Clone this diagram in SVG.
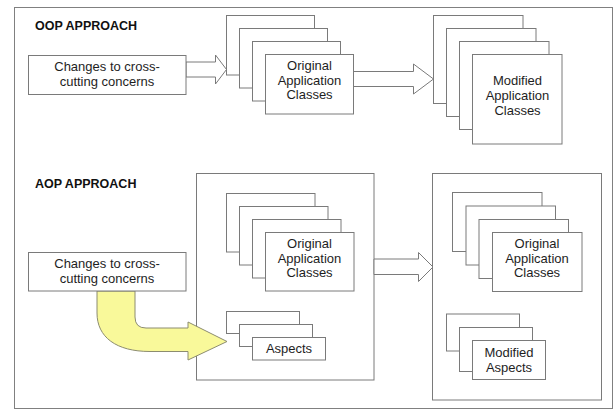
<svg xmlns="http://www.w3.org/2000/svg" width="614" height="409" viewBox="0 0 614 409">
  <style>
    .frame { fill: #ffffff; stroke: #808080; stroke-width: 1; }
    .box { fill: #ffffff; stroke: #7a7a7a; stroke-width: 1; }
    .arrow { fill: #ffffff; stroke: #7a7a7a; stroke-width: 1; stroke-linejoin: miter; }
    .curved { fill: #f9f99a; stroke: #8c8c70; stroke-width: 1; }
    .label { font-family: "Liberation Sans", Arial, sans-serif; font-size: 13px; fill: #1e1e1e; text-anchor: middle; }
    .heading { font-family: "Liberation Sans", Arial, sans-serif; font-size: 12.5px; font-weight: bold; fill: #111111; }
  </style>

  <!-- outer frame -->
  <rect class="frame" x="14.5" y="7.5" width="598" height="401"/>

  <!-- section headings -->
  <text class="heading" x="35" y="30">OOP APPROACH</text>
  <text class="heading" x="35" y="187.5">AOP APPROACH</text>

  <!-- AOP containers -->
  <g id="aop-before">
    <rect class="box" x="196.5" y="173.5" width="177.5" height="206.5"/>
  </g>
  <g id="aop-after">
    <rect class="box" x="432.5" y="173.5" width="169" height="226.5"/>
  </g>

  <!-- connectors -->
  <g id="connectors">
    <polygon class="arrow" points="186,62 215.5,62 215.5,55 226.5,69.5 215.5,84 215.5,77 186,77"/>
    <polygon class="arrow" points="353.5,71.5 413.5,71.5 413.5,64 433.5,79 413.5,94 413.5,86.5 353.5,86.5"/>
    <polygon class="arrow" points="374,259 418.5,259 418.5,252.5 433,267 418.5,281.5 418.5,274.5 374,274.5"/>
    <path class="curved" d="M97,291 L135,291 L135,317 Q135,328 146,328 L188,328 L188,322 L227,341.5 L188,360 L188,351.5 L150,351.5 C116,351.5 97,337 97,313 Z"/>
  </g>

  <!-- OOP: changes -->
  <g id="oop-changes">
    <rect class="box" x="28.5" y="55.5" width="157.5" height="39"/>
    <text class="label" x="107" y="71">Changes to cross-</text>
    <text class="label" x="107" y="85.5">cutting concerns</text>
  </g>

  <!-- OOP: original classes -->
  <g id="oop-original">
    <rect class="box" x="226.5" y="15.5" width="88" height="59.5"/>
    <rect class="box" x="239.5" y="28.5" width="88" height="59.5"/>
    <rect class="box" x="252.5" y="41.5" width="88" height="59.5"/>
    <rect class="box" x="265.5" y="54.5" width="88" height="59.5"/>
    <text class="label" x="309.5" y="69.5">Original</text>
    <text class="label" x="309.5" y="84.5">Application</text>
    <text class="label" x="309.5" y="99">Classes</text>
  </g>

  <!-- OOP: modified classes -->
  <g id="oop-modified">
    <rect class="box" x="433.5" y="15.5" width="89.5" height="88"/>
    <rect class="box" x="446.5" y="28.5" width="89.5" height="88"/>
    <rect class="box" x="459.5" y="41.5" width="89.5" height="88"/>
    <rect class="box" x="472.5" y="54.5" width="89.5" height="89.5"/>
    <text class="label" x="517.5" y="85">Modified</text>
    <text class="label" x="517.5" y="100">Application</text>
    <text class="label" x="517.5" y="114.5">Classes</text>
  </g>

  <!-- AOP: changes -->
  <g id="aop-changes">
    <rect class="box" x="28.5" y="252.5" width="157.5" height="38.5"/>
    <text class="label" x="107" y="267.5">Changes to cross-</text>
    <text class="label" x="107" y="282.5">cutting concerns</text>
  </g>

  <!-- AOP: original classes (before) -->
  <g id="aop-original-before">
    <rect class="box" x="226.5" y="193.5" width="88.5" height="58.5"/>
    <rect class="box" x="239.5" y="206.5" width="88.5" height="58.5"/>
    <rect class="box" x="252.5" y="219.5" width="88.5" height="58.5"/>
    <rect class="box" x="265.5" y="232.5" width="88.5" height="58.5"/>
    <text class="label" x="309.5" y="247.5">Original</text>
    <text class="label" x="309.5" y="262.5">Application</text>
    <text class="label" x="309.5" y="277">Classes</text>
  </g>

  <!-- AOP: aspects -->
  <g id="aop-aspects">
    <rect class="box" x="226.5" y="311.5" width="73" height="22"/>
    <rect class="box" x="239.5" y="324.5" width="73" height="22"/>
    <rect class="box" x="252.5" y="337.5" width="73" height="22.5"/>
    <text class="label" x="289" y="353">Aspects</text>
  </g>

  <!-- AOP: original classes (after) -->
  <g id="aop-original-after">
    <rect class="box" x="452.5" y="192.5" width="89.5" height="59"/>
    <rect class="box" x="466" y="206" width="89.5" height="59"/>
    <rect class="box" x="479" y="219.5" width="89.5" height="59"/>
    <rect class="box" x="492.5" y="232.5" width="89.5" height="59"/>
    <text class="label" x="537" y="247.5">Original</text>
    <text class="label" x="537" y="262.5">Application</text>
    <text class="label" x="537" y="277">Classes</text>
  </g>

  <!-- AOP: modified aspects -->
  <g id="aop-modified-aspects">
    <rect class="box" x="446.5" y="314" width="73" height="37"/>
    <rect class="box" x="459.5" y="327.5" width="73" height="44"/>
    <rect class="box" x="472.5" y="340.5" width="73" height="39"/>
    <text class="label" x="509" y="357">Modified</text>
    <text class="label" x="509" y="372">Aspects</text>
  </g>
</svg>
